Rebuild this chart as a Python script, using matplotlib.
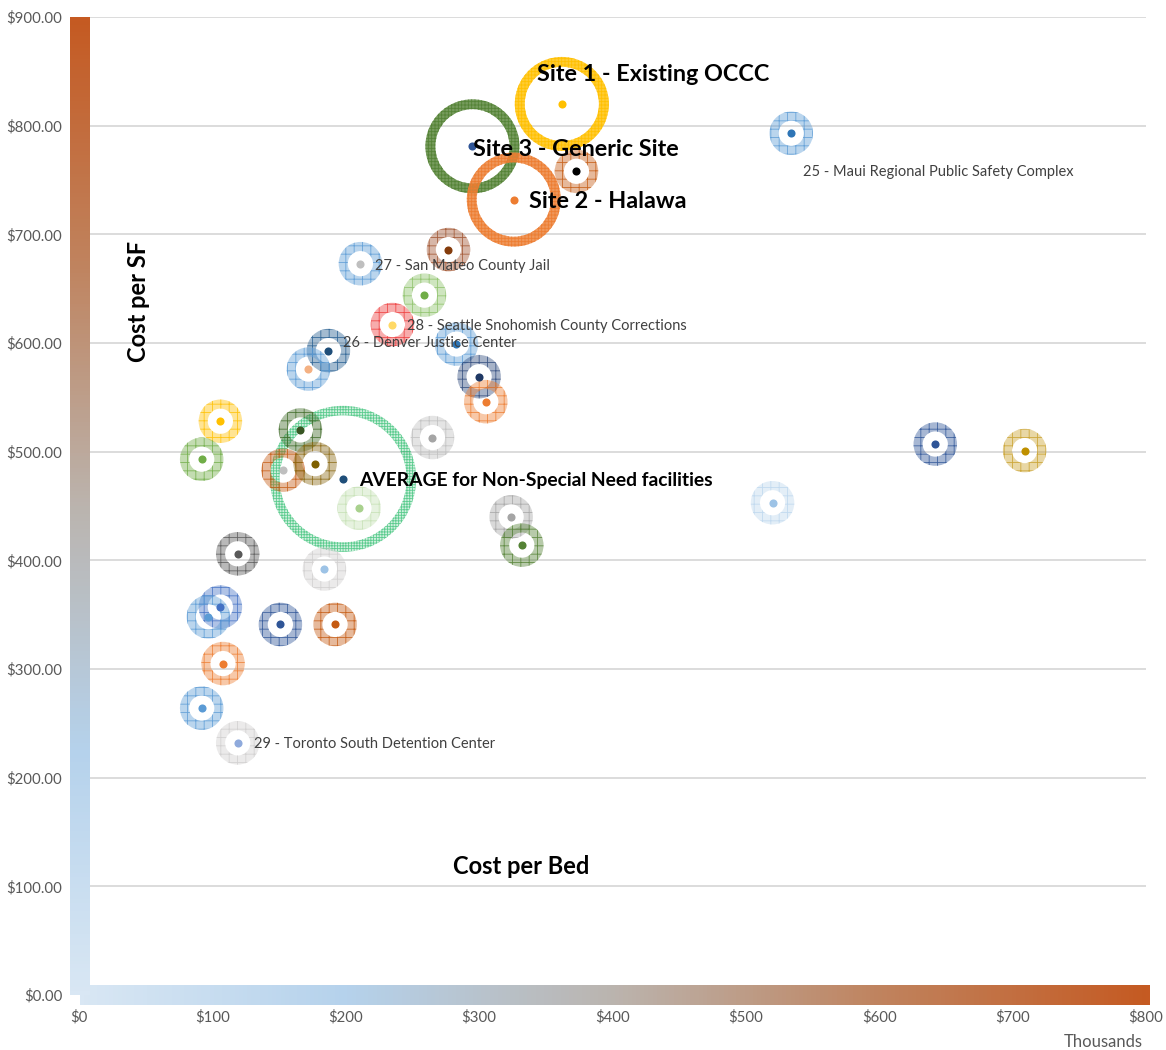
import numpy as np
import matplotlib.pyplot as plt
from matplotlib.patches import Wedge
from matplotlib.markers import MarkerStyle
from matplotlib.colors import LinearSegmentedColormap, to_rgba

plt.rcParams['font.family'] = ['Lato', 'DejaVu Sans']
plt.rcParams['hatch.linewidth'] = 0.6

W, H = 1166, 1050

# cost per bed (thousands of $) and cost per SF ($) for each facility
labels = ['Site 1 - Existing OCCC', 'Site 3 - Generic Site', 'Site 2 - Halawa', '',
          '25 - Maui Regional Public Safety Complex', '', '27 - San Mateo County Jail', '',
          '28 - Seattle Snohomish County Corrections', '26 - Denver Justice Center', '', '',
          '', '', '', '', '', '', '', '', '', '',
          'AVERAGE for Non-Special Need facilities', '', '', '', '', '', '', '', '', '', '',
          '', '', '29 - Toronto South Detention Center']
cost_per_bed = [362, 295, 326, 373, 534, 277, 211, 259, 235, 187, 283, 172,
                300, 305, 106, 166, 265, 642, 709, 92, 153, 177, 198, 210,
                520, 324, 332, 119, 184, 106, 97, 151, 192, 108, 92, 119]
cost_per_sf = [820, 781, 732, 758, 793, 686, 673, 644, 617, 593, 599, 576,
               569, 546, 528, 520, 513, 507, 501, 493, 483, 489, 475, 448,
               453, 440, 414, 406, 392, 357, 348, 341, 341, 305, 264, 232]
kind = ['site', 'site', 'site'] + ['fac'] * 19 + ['avg'] + ['fac'] * 13

ring_colors = ['#FFC000', '#548235', '#ED7D31', '#C55A11', '#5B9BD5', '#A0522D',
               '#5B9BD5', '#8CC168', '#EE3B3B', '#255E91', '#5B9BD5', '#5B9BD5',
               '#2F4A7C', '#ED7D31', '#FFC000', '#3F6B28', '#BFBFBF', '#2F5597',
               '#C9A02A', '#70AD47', '#C55A11', '#8B6914', '#00B050', '#C5E0B4',
               '#BDD7EE', '#A5A5A5', '#548235', '#595959', '#D0CECE', '#4472C4',
               '#5B9BD5', '#2F5597', '#C55A11', '#ED7D31', '#5B9BD5', '#D0CECE']
dot_colors = ['#FFC000', '#2F5597', '#ED7D31', '#000000', '#2E75B6', '#843C0C',
              '#BFBFBF', '#70AD47', '#FFD966', '#1F4E79', '#2E75B6', '#F4B183',
              '#1F3864', '#ED7D31', '#FFC000', '#375623', '#A5A5A5', '#2F5597',
              '#BF9000', '#70AD47', '#BFBFBF', '#7F6000', '#1F4E79', '#A9D18E',
              '#9DC3E6', '#A5A5A5', '#548235', '#595959', '#9DC3E6', '#4472C4',
              '#5B9BD5', '#2F5597', '#C55A11', '#ED7D31', '#5B9BD5', '#8FAADC']

label_offsets = {0: (-25, 29), 1: (1, -3), 2: (15, -2), 4: (12, -39), 6: (15, -2),
                 8: (15, -1), 9: (15, 8), 22: (16, -2), 35: (16, -1)}

x_ticks = np.arange(0, 801, 100)
y_ticks = np.arange(0, 901, 100)

# ring style per kind: (outer diameter px, inner/outer ratio, hatch, face alpha, hatch alpha)
ring_style = {'fac': (43.5, 0.58, '++', 0.42, 0.85),
              'site': (94, 0.79, '+++++', 0.8, 0.95),
              'avg': (146, 0.87, '++++++', 0.18, 0.55)}


def ring_marker(ratio):
    path = Wedge((0, 0), 1, 0, 360, width=1 - ratio).get_path()
    return MarkerStyle(path)


fig = plt.figure(figsize=(W / 100, H / 100), dpi=100)
ax = fig.add_axes([79 / W, (H - 995) / H, 1067 / W, 978 / H])
ax.set_facecolor('none')
ax.set_xlim(0, 800)
ax.set_ylim(0, 900)

order = [i for i in range(len(kind)) if kind[i] == 'avg'] + \
        [i for i in range(len(kind)) if kind[i] == 'fac'] + \
        [i for i in range(len(kind)) if kind[i] == 'site']
for i in order:
    diam, ratio, hatch, falpha, halpha = ring_style[kind[i]]
    s = (diam * 0.72) ** 2
    ax.scatter([cost_per_bed[i]], [cost_per_sf[i]], s=s, marker=ring_marker(ratio),
               facecolors=[to_rgba(ring_colors[i], falpha)],
               edgecolors=[to_rgba(ring_colors[i], halpha)], linewidths=0,
               hatch=hatch, zorder=3)
for i in order:
    ax.scatter([cost_per_bed[i]], [cost_per_sf[i]], s=34, color=dot_colors[i],
               linewidths=0, zorder=4)

for i, (dx, dy) in label_offsets.items():
    if kind[i] == 'site':
        fs, fw, col = 16.8, 'bold', 'black'
    elif kind[i] == 'avg':
        fs, fw, col = 13.9, 'bold', 'black'
    else:
        fs, fw, col = 10.5, 'normal', '#404040'
    ax.annotate(labels[i], (cost_per_bed[i], cost_per_sf[i]), xytext=(dx, dy),
                textcoords='offset pixels', ha='left', va='center',
                fontsize=fs, fontweight=fw, color=col, zorder=5)

ax.set_xticks(x_ticks)
ax.set_xticklabels(['$%d' % v for v in x_ticks])
ax.set_yticks(y_ticks)
ax.set_yticklabels(['$%.2f' % v for v in y_ticks])
ax.tick_params(length=0, labelsize=10.8, labelcolor='#595959')
ax.tick_params(axis='x', pad=11)
ax.tick_params(axis='y', pad=12)
ax.grid(axis='y', color='#D9D9D9', linewidth=1.3)
ax.set_axisbelow(True)
for sp in ax.spines.values():
    sp.set_visible(False)

fig.text(1143 / W, 1 - 1042 / H, 'Thousands', ha='right', va='center',
         fontsize=12, color='#595959')
fig.text(138 / W, 1 - 301 / H, 'Cost per SF', rotation=90, ha='center', va='center',
         fontsize=17, fontweight='bold')
fig.text(521 / W, 1 - 867 / H, 'Cost per Bed', ha='center', va='center',
         fontsize=17, fontweight='bold')

# gradient axis bars
grad = LinearSegmentedColormap.from_list(
    'bar', ['#D9E7F4', '#B5D2EC', '#BBB4AE', '#C0835E', '#C55A22'])
xb = fig.add_axes([80 / W, (H - 1005) / H, 1070 / W, 20 / H])
xb.imshow(np.linspace(0, 1, 256)[None, :], aspect='auto', cmap=grad)
xb.axis('off')
yb = fig.add_axes([70 / W, (H - 995) / H, 20 / W, 978 / H])
yb.imshow(np.linspace(1, 0, 256)[:, None], aspect='auto', cmap=grad)
yb.axis('off')

fig.savefig('out.png', dpi=100)
